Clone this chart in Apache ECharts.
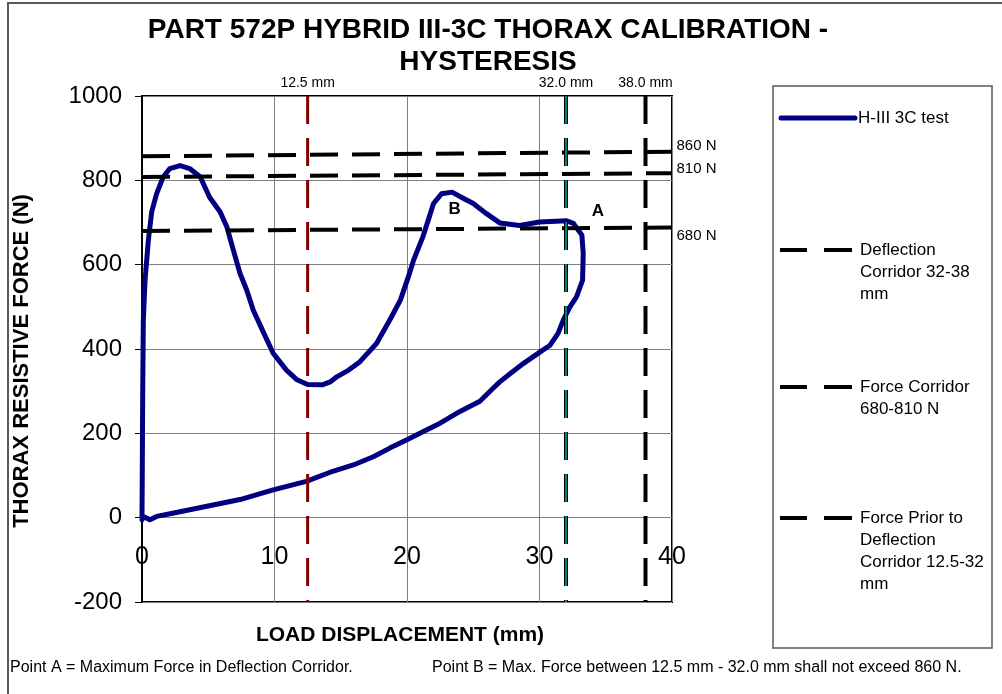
<!DOCTYPE html>
<html lang="en">
<head>
<meta charset="UTF-8">
<title>Part 572P Hybrid III-3C Thorax Calibration - Hysteresis</title>
<script src="https://cdn.jsdelivr.net/npm/echarts@6/dist/echarts.min.js"></script>
<style>
    html, body { margin: 0; padding: 0; background: #fff; }
    #main { width: 1002px; height: 694px; }
</style>
</head>
<body>
<div id="main"></div>
<script>
// test trace: displacement (mm) / force (N)
var testDisp = [0, 0.02, 0.05, 0.1, 0.23, 0.48, 0.73, 1.1, 1.6, 2.1, 2.87, 3.6, 4.4, 5.1, 5.9, 6.4, 6.9, 7.4, 7.9, 8.4,
    9.2, 9.9, 10.9, 11.7, 12.5, 13.6, 14.2, 14.7, 15.6, 16.45, 17.7, 18.7, 19.5, 20.1, 20.5, 21.2, 21.6, 22.0, 22.6, 23.4,
    24.1, 25.0, 26.0, 27.0, 28.5, 30.0, 32.05, 32.55, 33.2, 33.3, 33.25, 32.8, 32.3, 31.8, 31.4, 30.8, 30.0, 28.8, 27.8, 27.0,
    26.5, 25.5, 24.0, 22.5, 21.2, 20.0, 18.7, 17.5, 15.95, 14.4, 12.4, 9.9, 7.4, 4.9, 2.4, 1.1, 0.6, 0.1, 0];
var testForce = [0, 100, 279, 469, 563, 658, 725, 768, 808, 828, 835, 828, 808, 760, 725, 690, 634, 579, 540, 492,
    437, 390, 350, 327, 316, 315, 322, 334, 350, 370, 413, 469, 516, 571, 611, 666, 705, 745, 768, 772,
    760, 745, 721, 699, 693, 701, 704, 698, 670, 627, 563, 524, 500, 469, 437, 409, 392, 366, 342, 322,
    307, 276, 252, 224, 204, 185, 165, 145, 125, 110, 86, 66, 43, 27, 11, 3, -5, 3, -5];

// corridor lines
var lineX = [0, 40];
var force860 = [857, 868];
var force810 = [808, 817];
var force680 = [680, 688];
var forceSpan = [1000, -200];
var priorStart = 12.5;
var deflectLow = 32.0;
var deflectHigh = 38.0;

// labels of points A and B
var pointA = [34.4, 727];
var pointB = [23.6, 731];

function pairs(xs, ys) {
    var out = [];
    for (var i = 0; i < xs.length; i++) out.push([xs[i], ys[i]]);
    return out;
}

var dash = [28, 14];
var ff = '"Liberation Sans", Arial, sans-serif';
var clear = {color: 'rgba(0,0,0,0)'};

function hLine(name, ys, text, dy) {
    return {
        name: name, type: 'line', data: pairs(lineX, ys), symbol: 'none',
        lineStyle: {color: '#000', width: 4, type: dash},
        markPoint: {
            symbol: 'rect', symbolSize: 1, itemStyle: clear,
            label: {show: true, position: 'right', distance: 4, offset: [0, dy], color: '#000', fontSize: 15, fontFamily: ff, formatter: text},
            data: [{coord: [40, ys[1]]}]
        }
    };
}

function vLine(name, x, color, width, text) {
    var s = {
        name: name, type: 'line', data: pairs([x, x], forceSpan), symbol: 'none',
        lineStyle: {color: color, width: width, type: dash}
    };
    if (text) {
        s.markPoint = {
            symbol: 'rect', symbolSize: 1, itemStyle: clear,
            label: {show: true, position: 'top', distance: 5, color: '#000', fontSize: 14, fontFamily: ff, formatter: text},
            data: [{coord: [x, 1000]}]
        };
    }
    return s;
}

var myChart = echarts.init(document.getElementById('main'));
var option = {
    animation: false,
    backgroundColor: '#fff',
    title: {
        text: 'PART 572P HYBRID III-3C THORAX CALIBRATION -\nHYSTERESIS',
        left: 483, top: 9, textAlign: 'center',
        textStyle: {fontFamily: ff, fontSize: 28, fontWeight: 'bold', color: '#000', lineHeight: 32}
    },
    grid: {left: 142, right: 330, top: 96, bottom: 92, show: true, borderColor: '#000', borderWidth: 2,
        containLabel: false, outerBoundsMode: 'none'},
    xAxis: {
        type: 'value', min: 0, max: 40, interval: 10,
        name: 'LOAD DISPLACEMENT (mm)', nameLocation: 'middle', nameGap: 23,
        nameTextStyle: {fontFamily: ff, fontSize: 21, fontWeight: 'bold', color: '#000', padding: [0, 14, 0, 0]},
        axisLine: {show: false, onZero: false},
        axisTick: {show: false},
        axisLabel: {margin: -57, fontFamily: ff, fontSize: 25, color: '#000'},
        splitLine: {show: true, lineStyle: {color: '#808080', width: 1}}
    },
    yAxis: {
        type: 'value', min: -200, max: 1000, interval: 200,
        name: 'THORAX RESISTIVE FORCE (N)', nameLocation: 'middle', nameGap: 109, nameRotate: 90,
        nameTextStyle: {fontFamily: ff, fontSize: 22, fontWeight: 'bold', color: '#000', padding: [0, 24, 0, 0]},
        axisLine: {show: true, lineStyle: {color: '#000', width: 2}},
        axisTick: {show: true, length: 7, lineStyle: {color: '#000'}},
        axisLabel: {margin: 20, fontFamily: ff, fontSize: 24, color: '#000', formatter: function (v) { return String(v); }},
        splitLine: {show: true, lineStyle: {color: '#808080', width: 1}}
    },
    series: [
        {
            name: 'H-III 3C test', type: 'line', data: pairs(testDisp, testForce), symbol: 'none',
            lineStyle: {color: '#000080', width: 5, join: 'round', cap: 'round'},
            markPoint: {
                symbol: 'rect', symbolSize: 1, itemStyle: clear,
                label: {show: true, position: 'inside', color: '#000', fontSize: 17, fontWeight: 'bold', fontFamily: ff},
                data: [
                    {coord: pointA, label: {formatter: 'A'}},
                    {coord: pointB, label: {formatter: 'B'}}
                ]
            }
        },
        hLine('Force Prior 860', force860, '860 N', -6),
        hLine('Force Corridor 810', force810, '810 N', -4),
        hLine('Force Corridor 680', force680, '680 N', 8),
        vLine('Deflection 32', deflectLow, '#000', 4, null),
        vLine('Deflection 38', deflectHigh, '#000', 4, '38.0 mm'),
        vLine('Prior start', priorStart, '#800000', 3, '12.5 mm'),
        vLine('Deflection 32 mark', deflectLow, '#008080', 2, '32.0 mm')
    ],
    graphic: [
        {type: 'rect', z: -1, shape: {x: 8, y: 3, width: 1200, height: 800}, style: {fill: 'none', stroke: '#595959', lineWidth: 2}},
        {type: 'rect', shape: {x: 773, y: 86, width: 219, height: 562}, style: {fill: '#fff', stroke: '#595959', lineWidth: 1.5}},
        {type: 'line', shape: {x1: 781, y1: 118, x2: 855, y2: 118}, style: {stroke: '#000080', lineWidth: 5, lineCap: 'round'}},
        {type: 'text', x: 858, y: 118, style: {text: 'H-III 3C test', font: '17px ' + ff, fill: '#000', verticalAlign: 'middle'}},
        {type: 'line', shape: {x1: 780, y1: 250, x2: 807, y2: 250}, style: {stroke: '#000', lineWidth: 4}},
        {type: 'line', shape: {x1: 824, y1: 250, x2: 852, y2: 250}, style: {stroke: '#000', lineWidth: 4}},
        {type: 'text', x: 860, y: 239, style: {text: 'Deflection\nCorridor 32-38\nmm', font: '17px ' + ff, fill: '#000', lineHeight: 22, verticalAlign: 'top'}},
        {type: 'line', shape: {x1: 780, y1: 387, x2: 807, y2: 387}, style: {stroke: '#000', lineWidth: 4}},
        {type: 'line', shape: {x1: 824, y1: 387, x2: 852, y2: 387}, style: {stroke: '#000', lineWidth: 4}},
        {type: 'text', x: 860, y: 376, style: {text: 'Force Corridor\n680-810 N', font: '17px ' + ff, fill: '#000', lineHeight: 22, verticalAlign: 'top'}},
        {type: 'line', shape: {x1: 780, y1: 518, x2: 807, y2: 518}, style: {stroke: '#000', lineWidth: 4}},
        {type: 'line', shape: {x1: 824, y1: 518, x2: 852, y2: 518}, style: {stroke: '#000', lineWidth: 4}},
        {type: 'text', x: 860, y: 507, style: {text: 'Force Prior to\nDeflection\nCorridor 12.5-32\nmm', font: '17px ' + ff, fill: '#000', lineHeight: 22, verticalAlign: 'top'}},
        {type: 'text', x: 10, y: 668, style: {text: 'Point A = Maximum Force in Deflection Corridor.', font: '16px ' + ff, fill: '#000', verticalAlign: 'middle'}},
        {type: 'text', x: 432, y: 668, style: {text: 'Point B = Max. Force between 12.5 mm - 32.0 mm shall not exceed 860 N.', font: '16px ' + ff, fill: '#000', verticalAlign: 'middle'}}
    ]
};
myChart.setOption(option);
</script>
</body>
</html>
